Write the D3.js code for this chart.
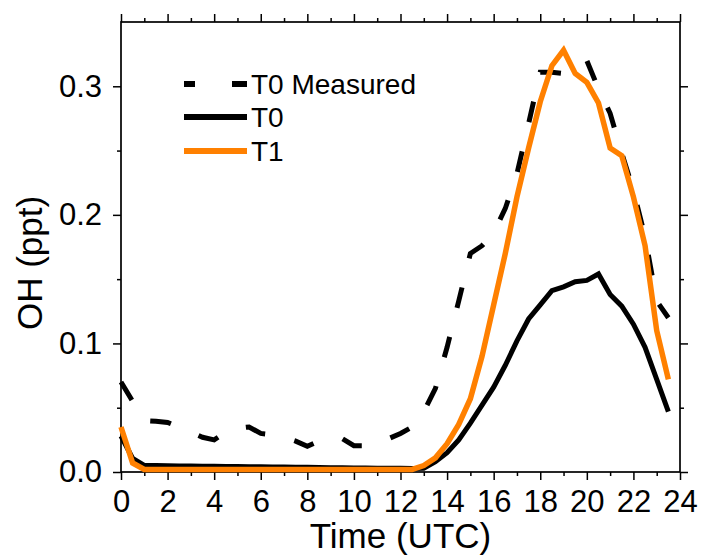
<!DOCTYPE html>
<html>
<head>
<meta charset="utf-8">
<script src="https://cdn.jsdelivr.net/npm/d3@7"></script>
<style>
  html, body { margin: 0; padding: 0; background: #fff; }
  svg { display: block; font-family: "Liberation Sans", Arial, sans-serif; }
</style>
</head>
<body>
<svg id="chart" width="703" height="560"></svg>
<script>
// ---- data ----
const hours = [0,0.5,1,1.5,2,2.5,3,3.5,4,4.5,5,5.5,6,6.5,7,7.5,8,8.5,9,9.5,10,10.5,11,11.5,
               12,12.5,13,13.5,14,14.5,15,15.5,16,16.5,17,17.5,18,18.5,19,19.5,20,20.5,21,21.5,22,22.5,23,23.5];
const t0Measured = [0.070,0.055,0.040,0.0395,0.0385,0.035,0.031,0.027,0.025,0.031,0.034,0.035,0.030,0.029,0.027,0.024,
                    0.020,0.024,0.026,0.026,0.0205,0.0205,0.022,0.026,0.030,0.035,0.047,0.065,0.097,0.133,0.170,0.176,
                    0.186,0.205,0.232,0.271,0.311,0.311,0.310,0.313,0.320,0.298,0.279,0.248,0.219,0.183,0.133,0.120];
const t0 = [0.028,0.0106,0.0052,0.005,0.0048,0.0047,0.0046,0.0045,0.0044,0.0043,0.0042,0.0041,0.004,0.0039,0.0038,0.0037,
            0.0036,0.0035,0.0034,0.0033,0.0032,0.0031,0.003,0.003,0.003,0.0028,0.003,0.008,0.015,0.025,0.038,0.052,
            0.066,0.083,0.102,0.119,0.130,0.141,0.144,0.148,0.149,0.154,0.138,0.129,0.115,0.097,0.072,0.047];
const t1 = [0.035,0.007,0.002,0.002,0.002,0.002,0.002,0.002,0.002,0.002,0.002,0.002,0.002,0.002,0.002,0.002,
            0.002,0.002,0.002,0.002,0.002,0.002,0.002,0.002,0.002,0.002,0.005,0.011,0.022,0.037,0.057,0.090,
            0.130,0.170,0.214,0.252,0.288,0.316,0.328,0.310,0.303,0.287,0.252,0.246,0.214,0.176,0.110,0.072];
const xMajorTicks = [0,2,4,6,8,10,12,14,16,18,20,22,24];
const xMinorTicks = [1,3,5,7,9,11,13,15,17,19,21,23];
const yMajorTicks = [0.0,0.1,0.2,0.3];
const yMinorTicks = [0.05,0.15,0.25];
const seriesNames = ["T0 Measured","T0","T1"];
const seriesColors = ["#000000","#000000","#ff8000"];

// ---- layout ----
const svg = d3.select("#chart");
const L = 121, R = 680, T = 22, B = 472;
const x = d3.scaleLinear().domain([0,24]).range([L,R]);
const y = d3.scaleLinear().domain([0,0.35]).range([B,T]);

function styleAxis(g){
  g.select(".domain").remove();
  g.selectAll(".tick line").attr("stroke","#000").attr("stroke-width",1.5);
  g.selectAll(".tick text").attr("fill","#000").style("font-size","31px")
   .style("font-family",'"Liberation Sans", Arial, sans-serif');
}

// bottom
svg.append("g").attr("transform",`translate(0,${B})`)
  .call(d3.axisBottom(x).tickValues(xMajorTicks).tickSize(8).tickPadding(10).tickFormat(d3.format("d")))
  .call(styleAxis);
svg.append("g").attr("transform",`translate(0,${B})`)
  .call(d3.axisBottom(x).tickValues(xMinorTicks).tickSize(4).tickFormat(""))
  .call(styleAxis);
// top
svg.append("g").attr("transform",`translate(0,${T})`)
  .call(d3.axisTop(x).tickValues(xMajorTicks).tickSize(8).tickFormat(""))
  .call(styleAxis);
svg.append("g").attr("transform",`translate(0,${T})`)
  .call(d3.axisTop(x).tickValues(xMinorTicks).tickSize(4).tickFormat(""))
  .call(styleAxis);
// left
svg.append("g").attr("transform",`translate(${L},0)`)
  .call(d3.axisLeft(y).tickValues(yMajorTicks).tickSize(8).tickPadding(11).tickFormat(d3.format(".1f")))
  .call(styleAxis);
svg.append("g").attr("transform",`translate(${L},0)`)
  .call(d3.axisLeft(y).tickValues(yMinorTicks).tickSize(4).tickFormat(""))
  .call(styleAxis);
// right
svg.append("g").attr("transform",`translate(${R},0)`)
  .call(d3.axisRight(y).tickValues(yMajorTicks).tickSize(8).tickFormat(""))
  .call(styleAxis);
svg.append("g").attr("transform",`translate(${R},0)`)
  .call(d3.axisRight(y).tickValues(yMinorTicks).tickSize(4).tickFormat(""))
  .call(styleAxis);

// frame
svg.append("rect").attr("x",L).attr("y",T).attr("width",R-L).attr("height",B-T)
  .attr("fill","none").attr("stroke","#000").attr("stroke-width",1.7);

// lines
const line = d3.line().x((d,i)=>x(hours[i])).y(d=>y(d));
const plot = svg.append("g");
plot.append("path").datum(t0Measured).attr("d",line).attr("fill","none")
  .attr("stroke",seriesColors[0]).attr("stroke-width",5).attr("stroke-dasharray","21,30");
plot.append("path").datum(t0).attr("d",line).attr("fill","none")
  .attr("stroke",seriesColors[1]).attr("stroke-width",5).attr("stroke-linejoin","miter");
plot.append("path").datum(t1).attr("d",line).attr("fill","none")
  .attr("stroke",seriesColors[2]).attr("stroke-width",5.5).attr("stroke-linejoin","miter");

// legend
const legY = [84, 117, 151];
const leg = svg.append("g");
seriesNames.forEach((name,i)=>{
  const ln = leg.append("line").attr("x1",184).attr("x2",247).attr("y1",legY[i]).attr("y2",legY[i])
    .attr("stroke",seriesColors[i]).attr("stroke-width",6);
  if(i===0) ln.attr("stroke-dasharray","11,37,15");
  leg.append("text").attr("x",251).attr("y",legY[i]).attr("dy","0.36em")
    .style("font-size","28px").attr("fill","#000").text(name);
});

// axis titles
svg.append("text").attr("x",(L+R)/2).attr("y",548).attr("text-anchor","middle")
  .style("font-size","35px").attr("fill","#000").text("Time (UTC)");
svg.append("text").attr("transform","translate(42,263) rotate(-90)").attr("text-anchor","middle")
  .style("font-size","35px").attr("fill","#000").text("OH (ppt)");
</script>
</body>
</html>
